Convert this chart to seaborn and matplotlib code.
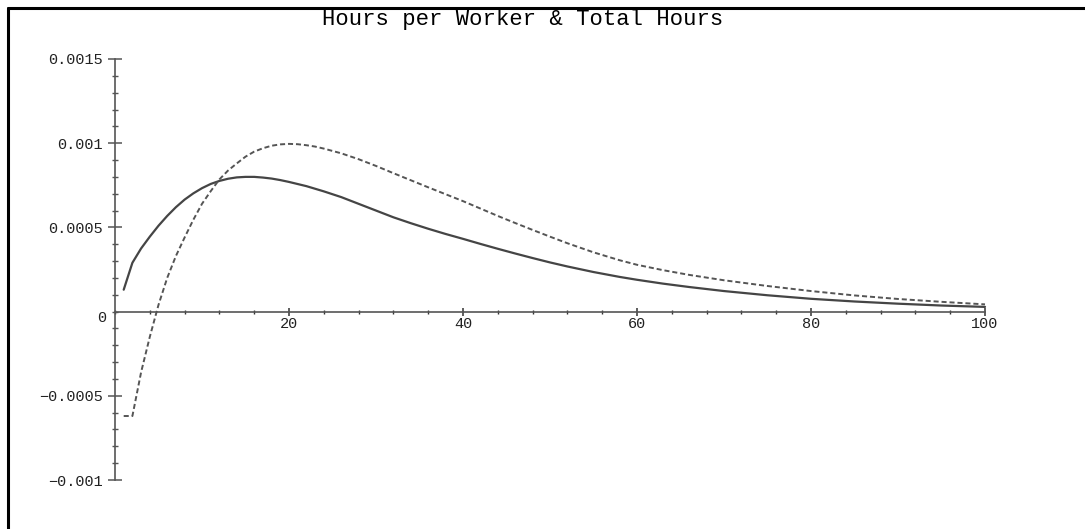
import numpy as np
import pandas as pd
import matplotlib
matplotlib.use("Agg")
import matplotlib.pyplot as plt
from matplotlib.lines import Line2D
from matplotlib.ticker import FixedLocator, FixedFormatter, MultipleLocator
import seaborn as sns

# Solid curve: hours per worker
x_per_worker = [1, 2, 3, 4, 5, 6, 7, 8, 9, 10, 11, 12, 13, 14, 15, 16, 17, 18, 19, 20,
                22, 24, 26, 28, 30, 32, 34, 36, 38, 40, 42, 44, 46, 48, 50, 52, 55, 58,
                60, 63, 66, 70, 75, 80, 85, 90, 95, 100]
y_per_worker = [0.00013, 0.00029, 0.000375, 0.000445, 0.00051, 0.000568, 0.00062,
                0.000665, 0.000702, 0.000733, 0.000758, 0.000776, 0.000789, 0.000797,
                0.0008, 0.0008, 0.000796, 0.00079, 0.000781, 0.00077, 0.000745,
                0.000714, 0.00068, 0.00064, 0.0006, 0.00056, 0.000525, 0.000492,
                0.000461, 0.000432, 0.000402, 0.000373, 0.000345, 0.000318, 0.000292,
                0.000268, 0.000235, 0.000206, 0.000189, 0.000166, 0.000146, 0.000122,
                0.000097, 0.000076, 0.00006, 0.000047, 0.000036, 0.000028]

# Dashed curve: total hours
x_total = [1, 2, 3, 4, 5, 6, 7, 8, 9, 10, 11, 12, 13, 14, 15, 16, 17, 18, 19, 20, 21,
           22, 23, 24, 26, 28, 30, 32, 34, 36, 38, 40, 42, 44, 46, 48, 50, 52, 55, 58,
           60, 63, 66, 70, 75, 80, 85, 90, 95, 100]
y_total = [-0.00062, -0.00062, -0.00036, -0.00015, 0.00004, 0.0002, 0.00033, 0.00044,
           0.000545, 0.00064, 0.000715, 0.000785, 0.000838, 0.00088, 0.00092, 0.00095,
           0.00097, 0.000985, 0.000993, 0.000996, 0.000994, 0.000988, 0.00098,
           0.000968, 0.00094, 0.000905, 0.000865, 0.000822, 0.00078, 0.000738,
           0.000697, 0.000656, 0.000612, 0.000568, 0.000526, 0.000485, 0.000445,
           0.000406, 0.000352, 0.000305, 0.000278, 0.000246, 0.000218, 0.000186,
           0.000152, 0.000122, 0.000096, 0.000075, 0.000058, 0.000043]

title = "Hours per Worker & Total Hours"
x_major = [20, 40, 60, 80, 100]
x_major_labels = ["20", "40", "60", "80", "100"]
y_major = [-0.001, -0.0005, 0.0005, 0.001, 0.0015]
y_major_labels = ["\u22120.001", "\u22120.0005", "0.0005", "0.001", "0.0015"]

sns.set_style("white")
plt.rcParams["font.family"] = ["Liberation Mono", "DejaVu Sans Mono"]

W, H = 1085, 529
fig = plt.figure(figsize=(W / 100, H / 100), dpi=100)
ax = fig.add_axes([115 / W, 49 / H, 870 / W, 421 / H])

df_pw = pd.DataFrame({"x": x_per_worker, "y": y_per_worker})
df_tot = pd.DataFrame({"x": x_total, "y": y_total})

sns.lineplot(data=df_pw, x="x", y="y", ax=ax, color="#454545", linewidth=1.6,
             estimator=None, sort=False, clip_on=False)
sns.lineplot(data=df_tot, x="x", y="y", ax=ax, color="#555555", linewidth=1.4,
             estimator=None, sort=False, clip_on=False)
ax.lines[1].set_linestyle((0, (2.6, 1.5)))

ax.set_xlim(0, 100)
ax.set_ylim(-0.001, 0.0015)
ax.set_xlabel("")
ax.set_ylabel("")

# Axes cross at the origin
for side in ("top", "right"):
    ax.spines[side].set_visible(False)
ax.spines["left"].set_position(("data", 0))
ax.spines["bottom"].set_position(("data", 0))
for side in ("left", "bottom"):
    ax.spines[side].set_color("#555555")
    ax.spines[side].set_linewidth(1.2)

ax.xaxis.set_major_locator(FixedLocator(x_major))
ax.xaxis.set_major_formatter(FixedFormatter(x_major_labels))
ax.xaxis.set_minor_locator(MultipleLocator(4))
ax.yaxis.set_major_locator(FixedLocator(y_major))
ax.yaxis.set_major_formatter(FixedFormatter(y_major_labels))
ax.yaxis.set_minor_locator(MultipleLocator(0.0001))

ax.tick_params(axis="x", which="major", direction="inout", length=6, width=1.1,
               color="#333333", labelsize=11, labelcolor="#222222", pad=1)
ax.tick_params(axis="x", which="minor", direction="inout", length=3, width=1.0,
               color="#333333")
ax.tick_params(axis="y", which="major", direction="inout", length=10, width=1.1,
               color="#555555", labelsize=11, labelcolor="#222222", pad=4)
ax.tick_params(axis="y", which="minor", direction="inout", length=5, width=1.0,
               color="#555555")
ax.tick_params(which="both", bottom=True, left=True)

ax.annotate("0", xy=(0, 0), xytext=(-9.4, -4.3), textcoords="offset points",
            ha="center", va="center", fontsize=11, color="#222222")

fig.text(523 / W, 1 - 25 / H, title, ha="center", va="baseline", fontsize=16,
         color="black")

# Frame lines along the top and left edges
fig.add_artist(Line2D([7.5 / W, 1], [1 - 7.5 / H, 1 - 7.5 / H], color="black",
                      linewidth=2.2, transform=fig.transFigure))
fig.add_artist(Line2D([7.5 / W, 7.5 / W], [0, 1 - 7.5 / H], color="black",
                      linewidth=2.2, transform=fig.transFigure))

fig.savefig("out.png", dpi=100, facecolor="white")
